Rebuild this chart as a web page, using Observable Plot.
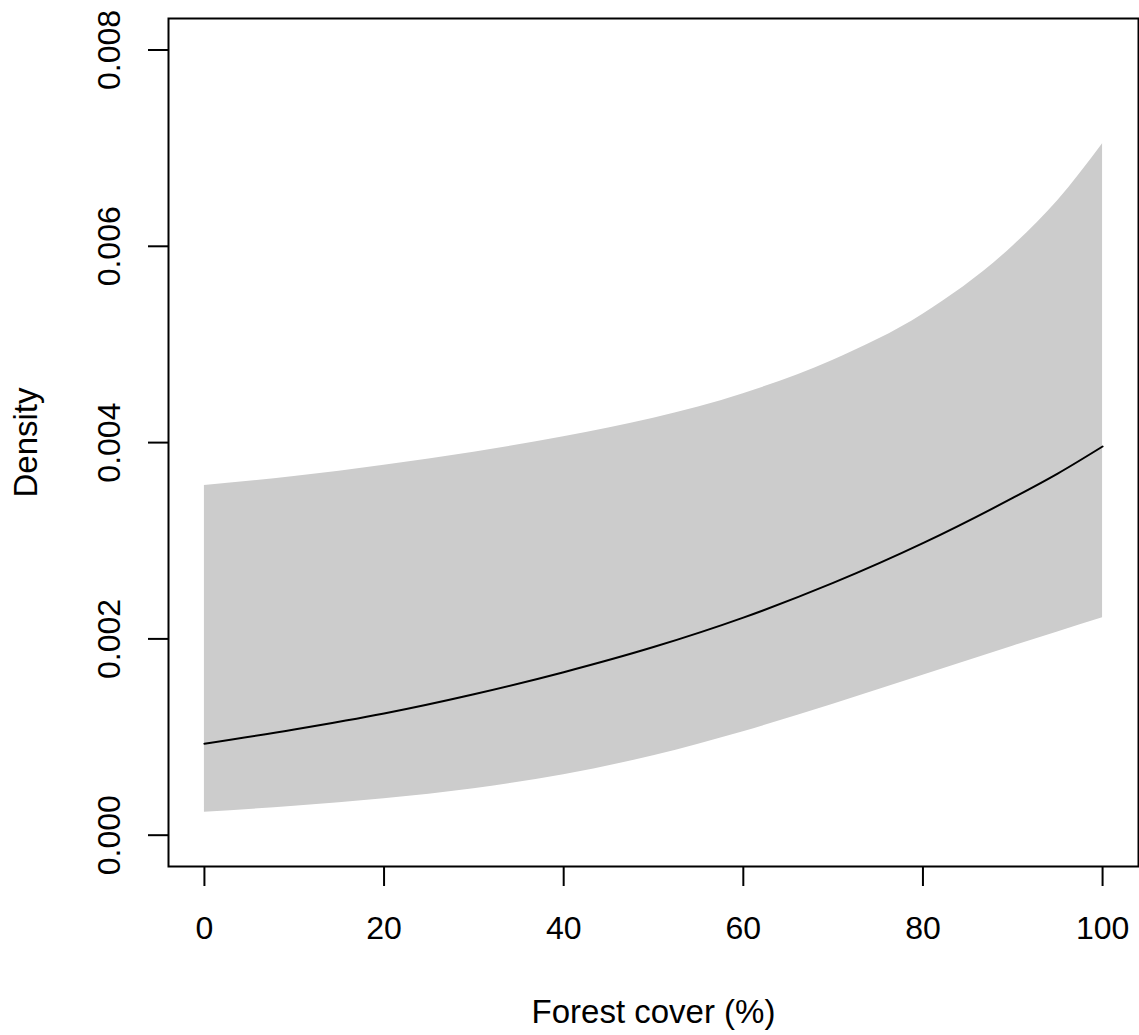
<!DOCTYPE html>
<html>
<head>
<meta charset="utf-8">
<script src="https://cdn.jsdelivr.net/npm/d3@7"></script>
<script src="https://cdn.jsdelivr.net/npm/@observablehq/plot@0.6"></script>
<style>
  html, body { margin: 0; padding: 0; background: #ffffff; }
  #chart svg { display: block; }
</style>
</head>
<body>
<div id="chart"></div>
<script>
// Predicted density along the forest-cover gradient, with its confidence band
const forestCover  = [0, 10, 20, 30, 40, 50, 60, 70, 80, 90, 95, 100];
const densityMean  = [0.000932, 0.001077, 0.001240, 0.001436, 0.001661, 0.001917, 0.002217, 0.002570, 0.002975, 0.003436, 0.003684, 0.003960];
const densityLower = [0.000234, 0.000295, 0.000372, 0.000474, 0.000616, 0.000810, 0.001055, 0.001335, 0.001630, 0.001926, 0.002071, 0.002215];
const densityUpper = [0.003563, 0.003655, 0.003770, 0.003902, 0.004060, 0.004249, 0.004498, 0.004840, 0.005308, 0.006001, 0.006464, 0.007044];

const xTicks = [0, 20, 40, 60, 80, 100];
const yTicks = [0, 0.002, 0.004, 0.006, 0.008];

const rows = forestCover.map((x, i) => ({
  cover: x,
  mean: densityMean[i],
  lower: densityLower[i],
  upper: densityUpper[i]
}));

const chart = Plot.plot({
  width: 1139,
  height: 1035,
  marginLeft: 168,
  marginRight: 1,
  marginTop: 18,
  marginBottom: 169,
  style: {
    fontFamily: "'Liberation Sans', Arial, Helvetica, sans-serif",
    fontSize: "32px",
    color: "black",
    background: "white"
  },
  x: { domain: [-4, 104] },
  y: { domain: [-0.000319, 0.008321] },
  marks: [
    Plot.areaY(rows, {
      x: "cover", y1: "lower", y2: "upper",
      fill: "#cccccc", curve: "monotone-x"
    }),
    Plot.lineY(rows, {
      x: "cover", y: "mean",
      stroke: "black", strokeWidth: 2, curve: "monotone-x"
    }),
    Plot.frame({ stroke: "black", strokeWidth: 2 }),
    Plot.axisX({
      ticks: xTicks,
      tickSize: 20,
      tickPadding: 30,
      strokeWidth: 2,
      label: null
    }),
    Plot.axisX({
      ticks: [],
      tickSize: 0,
      label: "Forest cover (%)",
      labelAnchor: "center",
      labelArrow: "none",
      labelOffset: 156,
      fontSize: 33
    }),
    Plot.axisY({
      ticks: yTicks,
      tickFormat: d3.format(".3f"),
      tickSize: 20,
      tickPadding: 29,
      tickRotate: -90,
      strokeWidth: 2,
      label: null
    }),
    Plot.axisY({
      ticks: [],
      tickSize: 0,
      label: "Density",
      labelAnchor: "center",
      labelArrow: "none",
      labelOffset: 155,
      fontSize: 33
    })
  ]
});

document.getElementById("chart").appendChild(chart);
</script>
</body>
</html>
